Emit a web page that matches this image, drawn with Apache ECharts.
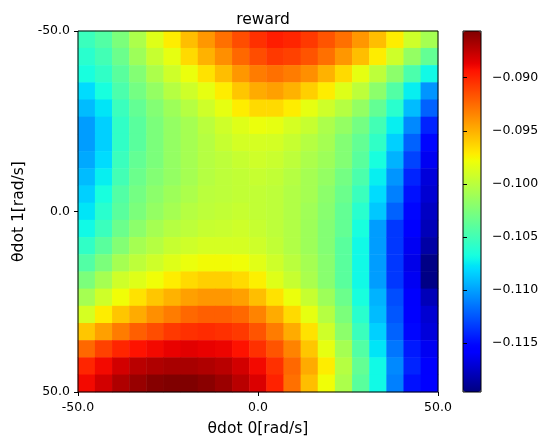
<!DOCTYPE html>
<html><head><meta charset="utf-8">
<script src="https://cdn.jsdelivr.net/npm/echarts@6/dist/echarts.min.js"></script>
<style>html,body{margin:0;padding:0;background:#fff}#c{width:543px;height:436px}</style>
</head><body><div id="c"></div>
<script>
// θdot 0 (x) and θdot 1 (y) sample positions
const xCats = [-50,-45,-40,-35,-30,-25,-20,-15,-10,-5,0,5,10,15,20,25,30,35,40,45,50];
const yCats = [-50,-45,-40,-35,-30,-25,-20,-15,-10,-5,0,5,10,15,20,25,30,35,40,45,50];
const xTicks = [-50, 0, 50];
const yTicks = [-50, 0, 50];
const cbTicks = [-0.115, -0.110, -0.105, -0.100, -0.095, -0.090];
const cbMin = -0.1196, cbMax = -0.0856;

// reward, one row per θdot 1 value (top row = -50)
const rewardRows = [
 [-0.1053,-0.1043,-0.1026,-0.1006,-0.0985,-0.0972,-0.0955,-0.0941,-0.0927,-0.0914,-0.0904,-0.0897,-0.0900,-0.0907,-0.0917,-0.0927,-0.0941,-0.0955,-0.0972,-0.0992,-0.1009],
 [-0.1060,-0.1050,-0.1033,-0.1012,-0.0995,-0.0982,-0.0965,-0.0951,-0.0938,-0.0924,-0.0914,-0.0907,-0.0910,-0.0917,-0.0927,-0.0941,-0.0955,-0.0972,-0.0992,-0.1016,-0.1036],
 [-0.1067,-0.1057,-0.1040,-0.1023,-0.1006,-0.0992,-0.0980,-0.0968,-0.0955,-0.0941,-0.0931,-0.0927,-0.0931,-0.0938,-0.0951,-0.0965,-0.0982,-0.0999,-0.1019,-0.1046,-0.1070],
 [-0.1080,-0.1067,-0.1046,-0.1029,-0.1016,-0.1002,-0.0992,-0.0982,-0.0972,-0.0958,-0.0948,-0.0944,-0.0951,-0.0961,-0.0972,-0.0985,-0.0999,-0.1019,-0.1043,-0.1074,-0.1104],
 [-0.1091,-0.1077,-0.1053,-0.1036,-0.1023,-0.1012,-0.1002,-0.0992,-0.0982,-0.0972,-0.0965,-0.0965,-0.0972,-0.0982,-0.0992,-0.1002,-0.1016,-0.1036,-0.1060,-0.1091,-0.1121],
 [-0.1101,-0.1084,-0.1057,-0.1040,-0.1026,-0.1016,-0.1009,-0.1000,-0.0992,-0.0985,-0.0980,-0.0982,-0.0989,-0.0995,-0.1006,-0.1016,-0.1029,-0.1050,-0.1074,-0.1108,-0.1142],
 [-0.1101,-0.1084,-0.1057,-0.1040,-0.1026,-0.1016,-0.1009,-0.1002,-0.0995,-0.0990,-0.0989,-0.0990,-0.0995,-0.1002,-0.1009,-0.1023,-0.1036,-0.1057,-0.1084,-0.1121,-0.1152],
 [-0.1097,-0.1080,-0.1053,-0.1036,-0.1026,-0.1016,-0.1009,-0.1002,-0.0999,-0.0995,-0.0992,-0.0994,-0.0999,-0.1006,-0.1012,-0.1023,-0.1040,-0.1067,-0.1094,-0.1131,-0.1162],
 [-0.1091,-0.1074,-0.1050,-0.1033,-0.1023,-0.1016,-0.1009,-0.1002,-0.0999,-0.0997,-0.0995,-0.0997,-0.1002,-0.1009,-0.1016,-0.1029,-0.1046,-0.1074,-0.1104,-0.1142,-0.1169],
 [-0.1084,-0.1067,-0.1043,-0.1029,-0.1019,-0.1012,-0.1006,-0.1000,-0.0999,-0.0997,-0.0997,-0.0999,-0.1004,-0.1009,-0.1019,-0.1033,-0.1053,-0.1080,-0.1111,-0.1148,-0.1172],
 [-0.1077,-0.1060,-0.1040,-0.1026,-0.1016,-0.1009,-0.1002,-0.0999,-0.0997,-0.0995,-0.0997,-0.0999,-0.1004,-0.1011,-0.1021,-0.1036,-0.1060,-0.1087,-0.1121,-0.1152,-0.1176],
 [-0.1070,-0.1053,-0.1033,-0.1019,-0.1009,-0.1002,-0.0999,-0.0995,-0.0994,-0.0992,-0.0995,-0.0999,-0.1004,-0.1012,-0.1023,-0.1036,-0.1067,-0.1101,-0.1135,-0.1155,-0.1179],
 [-0.1057,-0.1040,-0.1023,-0.1009,-0.1002,-0.0995,-0.0992,-0.0989,-0.0989,-0.0989,-0.0992,-0.0997,-0.1004,-0.1012,-0.1023,-0.1040,-0.1070,-0.1101,-0.1135,-0.1162,-0.1185],
 [-0.1043,-0.1026,-0.1009,-0.0999,-0.0992,-0.0985,-0.0980,-0.0977,-0.0977,-0.0978,-0.0984,-0.0992,-0.1000,-0.1009,-0.1021,-0.1040,-0.1070,-0.1101,-0.1135,-0.1165,-0.1194],
 [-0.1026,-0.1009,-0.0992,-0.0985,-0.0978,-0.0972,-0.0965,-0.0961,-0.0961,-0.0965,-0.0973,-0.0985,-0.0995,-0.1007,-0.1021,-0.1040,-0.1070,-0.1101,-0.1135,-0.1162,-0.1194],
 [-0.1009,-0.0992,-0.0978,-0.0968,-0.0958,-0.0951,-0.0944,-0.0941,-0.0941,-0.0944,-0.0955,-0.0968,-0.0980,-0.0995,-0.1012,-0.1033,-0.1067,-0.1094,-0.1128,-0.1159,-0.1179],
 [-0.0989,-0.0972,-0.0958,-0.0948,-0.0938,-0.0931,-0.0924,-0.0921,-0.0921,-0.0924,-0.0934,-0.0948,-0.0965,-0.0982,-0.1002,-0.1026,-0.1060,-0.1091,-0.1125,-0.1155,-0.1172],
 [-0.0958,-0.0944,-0.0931,-0.0921,-0.0914,-0.0907,-0.0904,-0.0902,-0.0904,-0.0907,-0.0917,-0.0931,-0.0948,-0.0968,-0.0992,-0.1019,-0.1053,-0.1084,-0.1121,-0.1152,-0.1169],
 [-0.0924,-0.0910,-0.0900,-0.0893,-0.0890,-0.0887,-0.0885,-0.0887,-0.0888,-0.0893,-0.0904,-0.0917,-0.0934,-0.0958,-0.0982,-0.1009,-0.1043,-0.1077,-0.1114,-0.1145,-0.1162],
 [-0.0900,-0.0890,-0.0880,-0.0873,-0.0870,-0.0868,-0.0868,-0.0870,-0.0873,-0.0880,-0.0890,-0.0904,-0.0924,-0.0948,-0.0972,-0.1002,-0.1036,-0.1070,-0.1108,-0.1142,-0.1159],
 [-0.0890,-0.0880,-0.0870,-0.0863,-0.0858,-0.0856,-0.0856,-0.0859,-0.0864,-0.0873,-0.0883,-0.0899,-0.0927,-0.0955,-0.0978,-0.1006,-0.1040,-0.1070,-0.1111,-0.1148,-0.1155]
];

// matplotlib "jet" colormap
function jet(t) {
  const seg = pts => {
    for (let k = 1; k < pts.length; k++) {
      if (t <= pts[k][0]) {
        const [a, va] = pts[k - 1], [b, vb] = pts[k];
        return va + (vb - va) * (t - a) / (b - a);
      }
    }
    return pts[pts.length - 1][1];
  };
  const r = seg([[0,0],[0.35,0],[0.66,1],[0.89,1],[1,0.5]]);
  const g = seg([[0,0],[0.125,0],[0.375,1],[0.64,1],[0.91,0],[1,0]]);
  const b = seg([[0,0.5],[0.11,1],[0.34,1],[0.65,0],[1,0]]);
  return 'rgb(' + Math.round(r*255) + ',' + Math.round(g*255) + ',' + Math.round(b*255) + ')';
}
const jetColors = [];
for (let k = 0; k <= 100; k++) jetColors.push(jet(k / 100));

const data = [];
rewardRows.forEach((row, j) => row.forEach((v, i) => data.push([i, j, v])));

const FONT = 'DejaVu Sans';
const tickFmt = v => v.toFixed(1);
const cbFmt = v => '\u2212' + Math.abs(v).toFixed(3);

const chart = echarts.init(document.getElementById('c'), null, {renderer: 'canvas'});
chart.setOption({
  animation: false,
  backgroundColor: '#fff',
  textStyle: {fontFamily: FONT},
  title: {
    text: 'reward', left: 258, top: 7, textAlign: 'center',
    textStyle: {fontSize: 15.5, fontWeight: 'normal', color: '#000', fontFamily: FONT}
  },
  grid: [
    {left: 78, top: 31, width: 360, height: 361, outerBoundsMode: 'none'},
    {left: 463, top: 31, width: 18, height: 361, outerBoundsMode: 'none'}
  ],
  xAxis: [
    {type: 'category', gridIndex: 0, data: xCats, show: false, position: 'bottom'},
    {type: 'value', gridIndex: 0, position: 'bottom', min: xTicks[0], max: xTicks[2], interval: 50, z: 10,
     axisLine: {show: false}, splitLine: {show: false},
     axisTick: {show: true, length: 4, lineStyle: {color: '#000', width: 1}},
     axisLabel: {margin: 9, fontSize: 12.5, color: '#000', fontFamily: FONT, formatter: tickFmt},
     name: 'θdot 0[rad/s]', nameLocation: 'middle', nameGap: 29,
     nameTextStyle: {fontSize: 15.5, color: '#000', fontFamily: FONT}},
    {type: 'value', gridIndex: 1, min: 0, max: 1, show: false}
  ],
  yAxis: [
    {type: 'category', gridIndex: 0, data: yCats, inverse: true, show: false, position: 'left'},
    {type: 'value', gridIndex: 0, position: 'left', inverse: true, min: yTicks[0], max: yTicks[2], interval: 50, z: 10,
     axisLine: {show: false}, splitLine: {show: false},
     axisTick: {show: true, length: 4, lineStyle: {color: '#000', width: 1}},
     axisLabel: {margin: 8, fontSize: 12.5, color: '#000', fontFamily: FONT, formatter: tickFmt},
     name: 'θdot 1[rad/s]', nameLocation: 'middle', nameGap: 50,
     nameTextStyle: {fontSize: 15.5, color: '#000', fontFamily: FONT}},
    {type: 'value', gridIndex: 1, position: 'right', min: cbMin, max: cbMax, z: 10,
     axisLine: {show: false}, splitLine: {show: false},
     axisTick: {show: true, length: 4, customValues: cbTicks, lineStyle: {color: '#000', width: 1}},
     axisLabel: {margin: 11, fontSize: 12.5, color: '#000', fontFamily: FONT, customValues: cbTicks, formatter: cbFmt}}
  ],
  visualMap: {
    type: 'continuous', min: cbMin, max: cbMax, calculable: false, orient: 'vertical',
    left: 463, top: 31, itemWidth: 18, itemHeight: 361, padding: 0, seriesIndex: 0,
    inRange: {color: jetColors}
  },
  graphic: [
    {type: 'rect', z: 100, shape: {x: 78, y: 31, width: 360, height: 361},
     style: {fill: null, stroke: '#000', lineWidth: 1}},
    {type: 'rect', z: 100, shape: {x: 463, y: 31, width: 18, height: 361},
     style: {fill: null, stroke: '#000', lineWidth: 1}}
  ],
  series: [{
    type: 'heatmap', xAxisIndex: 0, yAxisIndex: 0, data: data,
    itemStyle: {borderWidth: 0},
    emphasis: {disabled: true}
  }]
});
</script></body></html>
